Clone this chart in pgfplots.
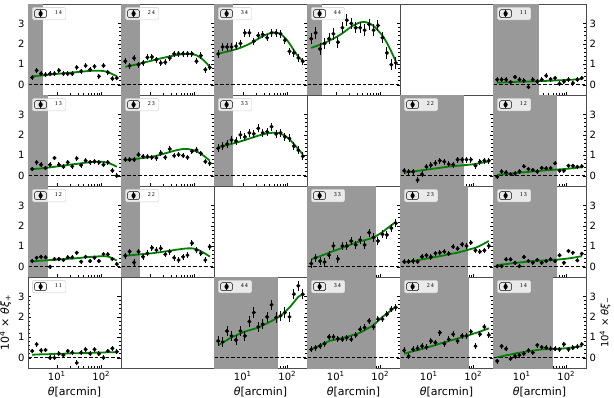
\documentclass[border=0pt]{standalone}
\usepackage{fontspec}
\setmainfont{DejaVu Sans}
\newfontfamily\legfont{Liberation Serif}
\usepackage{pgfplots}
\usepackage{pgfplotstable}
\pgfplotsset{compat=1.18}
\usepgfplotslibrary{groupplots}
\definecolor{mgreen}{RGB}{0,128,0}
\definecolor{shade}{RGB}{153,153,153}

% data points: one row per panel (p = xi_plus, m = xi_minus)
\pgfplotstableread{
name c0 c1 c2 c3 c4 c5 c6 c7 c8 c9 c10 c11 c12 c13 c14 c15 c16 c17 c18 c19
t 2.81 3.53 4.44 5.60 7.05 8.87 11.2 14.1 17.7 22.3 28.1 35.3 44.4 56.0 70.5 88.7 112 141 177 223
p14 0.36 0.70 0.54 0.49 0.54 0.54 0.70 0.54 0.54 0.54 0.85 0.66 0.93 0.74 0.90 0.41 0.93 0.61 0.30 0.33
p24 1.15 0.93 1.30 0.98 1.07 1.34 1.36 1.23 1.07 1.10 1.31 1.51 1.52 1.52 1.52 1.52 1.15 1.43 0.74 0.85
p34 1.51 1.85 1.85 1.85 1.89 2.02 2.54 2.54 2.13 2.41 2.46 2.30 2.54 2.54 2.49 2.18 1.64 1.56 1.31 1.15
p44 2.25 2.54 1.75 2.02 2.25 2.49 2.08 2.79 3.16 3.00 2.79 2.79 2.67 2.95 2.67 2.90 2.30 1.56 0.98 1.07
p13 0.33 0.66 0.54 0.38 0.54 0.87 0.54 0.44 0.66 0.46 0.85 0.52 0.74 0.67 0.70 0.66 0.54 0.66 0.25 0.00
p23 0.79 0.79 0.79 1.03 0.95 0.93 0.90 0.87 1.11 0.90 1.31 0.98 1.03 0.98 0.90 1.20 1.26 1.10 0.69 0.61
p33 1.35 1.45 1.55 1.75 1.70 2.00 1.90 2.10 2.05 2.32 2.10 2.15 2.40 2.05 2.10 1.91 1.83 1.45 1.25 0.95
p12 0.28 0.44 0.49 0.46 0.00 0.38 0.38 0.33 0.46 0.46 0.69 0.25 0.49 0.28 0.44 0.28 0.62 0.61 0.38 0.13
p22 0.54 0.74 0.21 0.74 0.49 0.66 0.93 0.82 0.90 0.61 0.74 0.44 0.33 0.49 0.57 1.15 0.82 0.66 0.33 0.98
p11 0.33 0.66 0.36 0.38 0.00 0.00 0.20 0.13 0.33 0.25 -0.25 0.25 0.41 0.20 0.41 0.20 0.00 0.33 0.46 0.30
m11 0.25 0.25 0.25 0.13 0.38 0.25 0.20 -0.11 0.25 0.16 0.25 0.44 0.28 0.33 0.05 0.16 0.25 0.08 0.25 0.33
m22 0.25 0.20 0.20 -0.21 0.08 0.44 0.52 0.62 0.74 0.69 0.57 0.54 0.79 0.79 0.79 0.79 0.49 0.69 0.74 0.74
m12 -0.05 0.21 0.16 0.08 0.11 0.21 0.46 0.33 0.28 0.21 0.38 0.36 0.38 0.61 0.25 0.25 0.49 0.49 0.44 0.46
m33 0.16 0.44 0.28 0.23 0.57 1.02 0.39 1.02 1.02 1.26 1.07 1.31 1.07 1.67 1.43 1.26 1.59 1.56 1.89 2.13
m23 0.25 0.25 0.28 0.25 0.49 0.56 0.48 0.66 0.69 0.74 0.64 0.98 0.89 1.10 1.02 1.18 0.80 0.74 0.80 1.02
m13 0.03 0.03 0.36 0.36 0.20 0.03 0.48 0.28 0.20 0.33 0.20 0.28 0.36 0.28 0.56 0.20 0.77 0.69 0.31 0.64
m44 0.82 0.77 1.31 1.07 0.87 1.31 1.07 1.77 2.21 1.51 1.64 2.00 2.59 1.97 2.05 2.21 2.00 3.11 3.52 3.11
m34 0.41 0.49 0.57 0.69 1.02 1.02 0.93 0.90 0.98 0.90 1.11 1.39 1.48 1.80 1.51 1.89 1.89 2.13 2.38 2.46
m24 0.36 0.08 0.41 0.46 0.57 0.52 0.82 0.74 1.23 0.69 0.90 1.15 0.82 1.07 1.07 1.28 0.57 1.15 1.51 1.11
m14 -0.16 0.57 0.44 -0.05 0.08 0.13 0.20 0.36 0.25 0.62 0.52 0.49 0.44 0.44 0.41 0.66 0.41 0.49 0.54 0.66
}\rawdata
\pgfplotstabletranspose[colnames from=name]{\datatab}{\rawdata}

% model curves at the same angles
\pgfplotstableread{
name c0 c1 c2 c3 c4 c5 c6 c7 c8 c9 c10 c11 c12 c13 c14 c15 c16 c17 c18 c19
t 2.81 3.53 4.44 5.60 7.05 8.87 11.2 14.1 17.7 22.3 28.1 35.3 44.4 56.0 70.5 88.7 112 141 177 223
p14 0.41 0.43 0.45 0.47 0.50 0.52 0.54 0.56 0.58 0.60 0.62 0.64 0.66 0.68 0.69 0.69 0.67 0.62 0.52 0.42
p24 0.88 0.92 0.97 1.02 1.08 1.13 1.18 1.24 1.29 1.34 1.39 1.43 1.47 1.50 1.51 1.50 1.44 1.31 1.12 0.88
p34 1.52 1.57 1.62 1.68 1.74 1.81 1.90 2.00 2.12 2.25 2.37 2.47 2.54 2.55 2.48 2.30 2.02 1.68 1.38 1.15
p44 1.80 1.88 1.96 2.05 2.15 2.26 2.38 2.52 2.68 2.84 2.96 3.05 3.07 3.01 2.88 2.66 2.40 2.05 1.62 1.15
p13 0.32 0.34 0.36 0.39 0.41 0.44 0.47 0.50 0.53 0.56 0.58 0.61 0.64 0.66 0.68 0.69 0.68 0.63 0.55 0.44
p23 0.77 0.79 0.82 0.84 0.87 0.89 0.93 0.98 1.04 1.10 1.16 1.22 1.27 1.31 1.31 1.27 1.19 1.07 0.92 0.74
p33 1.40 1.45 1.50 1.56 1.62 1.68 1.75 1.82 1.89 1.96 2.02 2.07 2.10 2.10 2.06 1.95 1.78 1.55 1.30 1.05
p12 0.27 0.28 0.30 0.31 0.33 0.34 0.36 0.37 0.39 0.40 0.42 0.44 0.46 0.48 0.50 0.51 0.52 0.50 0.42 0.30
p22 0.54 0.56 0.58 0.60 0.62 0.64 0.66 0.69 0.72 0.75 0.78 0.82 0.85 0.88 0.90 0.90 0.86 0.76 0.64 0.50
p11 0.15 0.16 0.17 0.17 0.18 0.19 0.20 0.20 0.21 0.22 0.22 0.23 0.24 0.24 0.25 0.26 0.26 0.27 0.27 0.28
m11 0.10 0.11 0.12 0.13 0.14 0.15 0.15 0.16 0.17 0.18 0.18 0.19 0.20 0.21 0.22 0.23 0.24 0.25 0.27 0.28
m22 0.15 0.18 0.21 0.24 0.27 0.30 0.33 0.36 0.39 0.42 0.45 0.47 0.49 0.51 0.53 0.55 0.58 0.62 0.66 0.70
m12 0.05 0.07 0.09 0.11 0.13 0.15 0.17 0.19 0.21 0.23 0.25 0.27 0.28 0.30 0.31 0.33 0.35 0.37 0.40 0.42
m33 0.36 0.44 0.52 0.60 0.69 0.77 0.85 0.93 1.01 1.10 1.18 1.24 1.30 1.36 1.43 1.56 1.70 1.87 2.03 2.20
m23 0.20 0.24 0.28 0.32 0.36 0.40 0.44 0.48 0.52 0.56 0.61 0.65 0.69 0.75 0.81 0.87 0.93 1.03 1.14 1.26
m13 0.08 0.11 0.13 0.16 0.18 0.21 0.23 0.26 0.28 0.29 0.30 0.31 0.33 0.34 0.36 0.38 0.41 0.44 0.48 0.52
m44 0.61 0.74 0.87 1.00 1.09 1.19 1.28 1.35 1.41 1.48 1.58 1.69 1.80 1.92 2.05 2.25 2.46 2.72 2.98 3.11
m34 0.41 0.51 0.61 0.71 0.82 0.87 0.92 0.97 1.02 1.09 1.16 1.23 1.35 1.47 1.60 1.80 2.00 2.16 2.33 2.49
m24 0.20 0.26 0.32 0.37 0.43 0.49 0.56 0.62 0.69 0.75 0.82 0.88 0.94 1.01 1.07 1.14 1.21 1.28 1.36 1.44
m14 0.03 0.07 0.12 0.16 0.21 0.25 0.28 0.32 0.35 0.38 0.41 0.42 0.43 0.44 0.45 0.46 0.48 0.51 0.54 0.57
}\rawmodel
\pgfplotstabletranspose[colnames from=name]{\modeltab}{\rawmodel}

\pgfplotsset{
  shadefill/.style={fill=shade, draw=none, forget plot},
  zeroline/.style={black, line width=0.8pt, dash pattern=on 3.5pt off 2pt, forget plot},
  modelline/.style={mgreen, line width=1.8pt, smooth, no marks, forget plot},
  datapts/.style={black, only marks, mark=*, mark size=1.8pt,
    error bars/y dir=both, error bars/error mark=none,
    error bars/error bar style={line width=1pt, black, solid},
    legend image code/.code={%
      \path (0pt,-4pt) rectangle (12pt,4pt);
      \draw[black, line width=1pt, fill opacity=1, draw opacity=1] (6pt,-3.6pt) -- (6pt,3.6pt);
      \fill[black, fill opacity=1] (6pt,0pt) ellipse (1.8pt and 2.3pt);}},
}

\newcommand{\panel}[4]{%
  \addplot[shadefill] coordinates {(1,-1) (#2,-1) (#2,5) (1,5)} -- cycle;
  \addplot[zeroline] coordinates {(1,0) (400,0)};
  \addplot[modelline] table[x=t, y=#1] {\modeltab};
  \addplot[datapts, error bars/y fixed=#3] table[x=t, y=#1] {\datatab};
  \addlegendentry{#4}%
}

\begin{document}
\begin{tikzpicture}
\begin{groupplot}[
  group style={group size=6 by 4, horizontal sep=0pt, vertical sep=0pt},
  scale only axis, width=93pt, height=91pt,
  xmode=log, xmin=2.26, xmax=277, ymin=-0.5, ymax=3.95,
  xtick={10,100}, xticklabels={},
  ytick={0,1,2,3}, yticklabels={}, minor y tick num=4,
  xtick pos=left, ytick pos=both,
  tick align=inside,
  major tick length=3.5pt, minor tick length=2pt,
  tick style={black, line width=0.5pt},
  axis line style={black!70, line width=0.8pt},
  tick label style={font=\fontsize{10}{12}\selectfont},
  label style={font=\fontsize{11}{13}\selectfont},
  legend style={at={(0.045,0.965)}, anchor=north west,
    font=\legfont\fontsize{6}{7}\selectfont,
    fill=white, fill opacity=0.8, text opacity=1, draw=black!20,
    rounded corners=1.5pt, inner xsep=2pt, inner ysep=1.5pt,
    /tikz/every odd column/.append style={column sep=6pt}},
  legend cell align=left,
  clip=true,
]
% ---- row 1
\nextgroupplot[yticklabels={0,1,2,3}]
\panel{p14}{4.9}{0.12}{1\,4}
\nextgroupplot
\panel{p24}{6.0}{0.15}{2\,4}
\nextgroupplot
\panel{p34}{6.0}{0.18}{3\,4}
\nextgroupplot
\panel{p44}{4.9}{0.28}{4\,4}
\nextgroupplot[xtick=\empty, ytick=\empty, minor y tick num=0]
\nextgroupplot[yticklabel pos=right, yticklabels={0,1,2,3}]
\panel{m11}{24.4}{0.12}{1\,1}
% ---- row 2
\nextgroupplot[yticklabels={0,1,2,3}]
\panel{p13}{6.4}{0.12}{1\,3}
\nextgroupplot
\panel{p23}{6.0}{0.13}{2\,3}
\nextgroupplot
\panel{p33}{6.0}{0.2}{3\,3}
\nextgroupplot[xtick=\empty, ytick=\empty, minor y tick num=0]
\nextgroupplot
\panel{m22}{60.4}{0.15}{2\,2}
\nextgroupplot[yticklabel pos=right, yticklabels={0,1,2,3}]
\panel{m12}{61.5}{0.1}{1\,2}
% ---- row 3
\nextgroupplot[yticklabels={0,1,2,3}]
\panel{p12}{6.4}{0.1}{1\,2}
\nextgroupplot
\panel{p22}{6.0}{0.15}{2\,2}
\nextgroupplot[xtick=\empty, ytick=\empty, minor y tick num=0]
\nextgroupplot
\panel{m33}{80.3}{0.2}{3\,3}
\nextgroupplot
\panel{m23}{77.5}{0.13}{2\,3}
\nextgroupplot[yticklabel pos=right, yticklabels={0,1,2,3}]
\panel{m13}{61.5}{0.1}{1\,3}
% ---- row 4
\nextgroupplot[yticklabels={0,1,2,3}, xticklabels={10\textsuperscript{1},10\textsuperscript{2}},
  xlabel={\textit{θ}[arcmin]}, ylabel={10\textsuperscript{4} × \textit{θξ}\textsubscript{+}}]
\panel{p11}{2.0}{0.12}{1\,1}
\nextgroupplot[xtick=\empty, ytick=\empty, minor y tick num=0]
\nextgroupplot[xticklabels={10\textsuperscript{1},10\textsuperscript{2}}, xlabel={\textit{θ}[arcmin]}]
\panel{m44}{61.5}{0.25}{4\,4}
\nextgroupplot[xticklabels={10\textsuperscript{1},10\textsuperscript{2}}, xlabel={\textit{θ}[arcmin]}]
\panel{m34}{80.3}{0.15}{3\,4}
\nextgroupplot[xticklabels={10\textsuperscript{1},10\textsuperscript{2}}, xlabel={\textit{θ}[arcmin]}]
\panel{m24}{80.3}{0.15}{2\,4}
\nextgroupplot[yticklabel pos=right, yticklabels={0,1,2,3},
  xticklabels={10\textsuperscript{1},10\textsuperscript{2}}, xlabel={\textit{θ}[arcmin]},
  ylabel near ticks, ylabel style={xshift=0pt, yshift=3pt},
  ylabel={10\textsuperscript{4} × \textit{θξ}\textsubscript{−}}]
\panel{m14}{49.7}{0.12}{1\,4}
\end{groupplot}
\pgfresetboundingbox
\path[use as bounding box] ([xshift=-28pt,yshift=4pt]group c1r1.north west) rectangle ([xshift=586pt,yshift=-393pt]group c1r1.north west);
\end{tikzpicture}
\end{document}
